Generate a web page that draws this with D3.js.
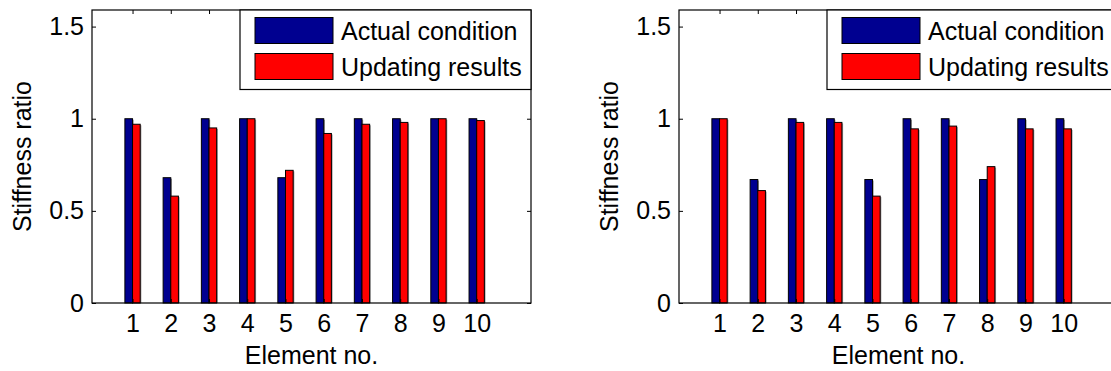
<!DOCTYPE html>
<html>
<head>
<meta charset="utf-8">
<script src="https://cdn.jsdelivr.net/npm/d3@7/dist/d3.min.js"></script>
<style>
  html, body { margin: 0; padding: 0; background: #fff; }
  svg { display: block; }
  text { font-family: "Liberation Sans", Arial, sans-serif; fill: #000; }
</style>
</head>
<body>
<svg id="chart" width="1111" height="371"></svg>
<script>
// ---- data ----
const elements = [1, 2, 3, 4, 5, 6, 7, 8, 9, 10];
const seriesNames = ["Actual condition", "Updating results"];
const leftActual   = [1.00, 0.68, 1.00, 1.00, 0.68, 1.00, 1.00, 1.00, 1.00, 1.00];
const leftUpdated  = [0.97, 0.58, 0.95, 1.00, 0.72, 0.92, 0.97, 0.98, 1.00, 0.99];
const rightActual  = [1.00, 0.67, 1.00, 1.00, 0.67, 1.00, 1.00, 0.67, 1.00, 1.00];
const rightUpdated = [1.00, 0.61, 0.98, 0.98, 0.58, 0.945, 0.96, 0.74, 0.945, 0.945];
const yTicks = [0, 0.5, 1, 1.5];
const yTickLabels = ["0", "0.5", "1", "1.5"];
const xLabel = "Element no.";
const yLabel = "Stiffness ratio";

const colors = ["#000090", "#ff0000"];
const svg = d3.select("#chart");
const FS = 25;

function panel(left, actual, updated) {
  const x = d3.scaleLinear().domain([-0.06, 11.42]).range([left, left + 439]);
  const y = d3.scaleLinear().domain([0, 1.59]).range([303, 10]);
  const g = svg.append("g");
  const x0 = x.range()[0], x1 = x.range()[1];
  const y0 = y.range()[0], y1 = y.range()[1];
  const barW = 0.2;

  const series = [actual, updated];
  series.forEach((vals, si) => {
    const data = elements.map((e, i) => ({ e, v: vals[i] }));
    const off = si === 0 ? -barW : 0;
    g.append("g").selectAll("rect").data(data).join("rect")
      .attr("x", d => x(d.e + off) + 1.2)
      .attr("y", d => y(d.v) + 1)
      .attr("width", d => x(d.e + off + barW) - x(d.e + off))
      .attr("height", d => y(0) - y(d.v) - 1)
      .attr("fill", "#9a9a9a");
  });
  series.forEach((vals, si) => {
    const data = elements.map((e, i) => ({ e, v: vals[i] }));
    const off = si === 0 ? -barW : 0;
    g.append("g").selectAll("rect").data(data).join("rect")
      .attr("x", d => x(d.e + off))
      .attr("y", d => y(d.v))
      .attr("width", d => x(d.e + off + barW) - x(d.e + off))
      .attr("height", d => y(0) - y(d.v))
      .attr("fill", colors[si])
      .attr("stroke", "#000")
      .attr("stroke-width", 1);
  });

  g.append("rect").attr("x", x0).attr("y", y1).attr("width", x1 - x0).attr("height", y0 - y1)
    .attr("fill", "none").attr("stroke", "#000").attr("stroke-width", 1.2);

  const yAxis = d3.axisLeft(y).tickValues(yTicks).tickSize(-4)
    .tickFormat((d, i) => yTickLabels[i]).tickPadding(8);
  const ya = g.append("g").attr("transform", `translate(${x0},0)`).call(yAxis);
  ya.select(".domain").remove();
  ya.selectAll("text").style("font-size", FS + "px").style("font-family", "Liberation Sans, Arial, sans-serif");
  const yaR = g.append("g").attr("transform", `translate(${x1},0)`)
    .call(d3.axisRight(y).tickValues(yTicks).tickSize(-4).tickFormat(""));
  yaR.select(".domain").remove();

  const xAxis = d3.axisBottom(x).tickValues(elements).tickSize(-4)
    .tickFormat(d3.format("d")).tickPadding(11);
  const xa = g.append("g").attr("transform", `translate(0,${y0})`).call(xAxis);
  xa.select(".domain").remove();
  xa.selectAll("text").style("font-size", FS + "px").style("font-family", "Liberation Sans, Arial, sans-serif");
  const xaT = g.append("g").attr("transform", `translate(0,${y1})`)
    .call(d3.axisTop(x).tickValues(elements).tickSize(-4).tickFormat(""));
  xaT.select(".domain").remove();
  g.selectAll(".tick line").attr("stroke", "#000");

  g.append("text").attr("x", (x0 + x1) / 2).attr("y", 364)
    .attr("text-anchor", "middle").style("font-size", FS + "px").text(xLabel);
  g.append("text").attr("transform", `translate(${x0 - 61},${(y0 + y1) / 2}) rotate(-90)`)
    .attr("text-anchor", "middle").style("font-size", FS + "px").text(yLabel);

  const lx = x0 + 148, ly = y1;
  const lg = g.append("g");
  lg.append("rect").attr("x", lx).attr("y", ly).attr("width", x1 - lx).attr("height", 79.5)
    .attr("fill", "#fff").attr("stroke", "#000").attr("stroke-width", 1.2);
  seriesNames.forEach((name, i) => {
    const sy = ly + 7.5 + i * 36;
    lg.append("rect").attr("x", lx + 15).attr("y", sy).attr("width", 78).attr("height", 26)
      .attr("fill", colors[i]).attr("stroke", "#000").attr("stroke-width", 1);
    lg.append("text").attr("x", lx + 101).attr("y", sy + 22.5)
      .style("font-size", FS + "px").text(name);
  });
}

panel(92, leftActual, leftUpdated);
panel(679, rightActual, rightUpdated);
</script>
</body>
</html>
